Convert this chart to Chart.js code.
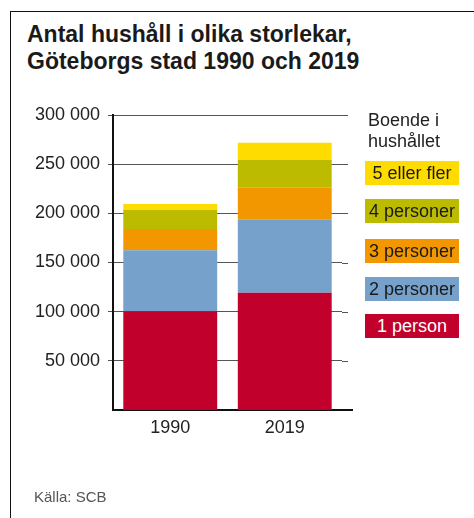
<!DOCTYPE html>
<html lang="sv">
<head>
    <meta charset="UTF-8">
    <title>Antal hushåll i olika storlekar</title>
    <script src="https://cdn.jsdelivr.net/npm/chart.js@4.4.1/dist/chart.umd.min.js"></script>
    <style>
        body { margin: 0; background: #fff; font-family: "Liberation Sans", Arial, sans-serif; color: #222; }
        #wrap { position: relative; width: 474px; height: 518px; overflow: hidden; }
        #frame { position: absolute; left: 10px; top: 11px; width: 470px; height: 520px; border-top: 1px solid #111; border-left: 1px solid #111; }
        #title { position: absolute; left: 27px; top: 21px; font-size: 23px; font-weight: bold; line-height: 27px; color: #1a1a1a; }
        #chart { position: absolute; left: 0; top: 0; }
        #legendTitle { position: absolute; left: 368px; top: 110px; font-size: 18px; line-height: 21px; color: #222; }
        .lg { position: absolute; left: 365px; width: 94px; height: 24px; font-size: 18px; line-height: 24px; text-align: center; color: #1a1a1a; white-space: nowrap; }
        #source { position: absolute; left: 34px; top: 488px; font-size: 15px; color: #555; }
    </style>
</head>
<body>
<div id="wrap">
    <div id="frame"></div>
    <div id="title">Antal hushåll i olika storlekar,<br>Göteborgs stad 1990 och 2019</div>
    <canvas id="chart" width="474" height="518"></canvas>
    <div id="legendTitle">Boende i<br>hushållet</div>
    <div id="legend"></div>
    <div id="source">Källa: SCB</div>
</div>
<script>
    // data
    const years = ['1990', '2019'];
    const onePerson = [100500, 119300];
    const twoPersons = [62000, 74200];
    const threePersons = [21500, 32600];
    const fourPersons = [19500, 28100];
    const fivePlus = [6000, 17600];
    const yTicks = [50000, 100000, 150000, 200000, 250000, 300000];

    const series = [
        { label: '1 person', data: onePerson, color: '#c1002b', text: '#fff' },
        { label: '2 personer', data: twoPersons, color: '#75a1cb', text: '#1a1a1a' },
        { label: '3 personer', data: threePersons, color: '#f39700', text: '#1a1a1a' },
        { label: '4 personer', data: fourPersons, color: '#bdbb00', text: '#1a1a1a' },
        { label: '5 eller fler', data: fivePlus, color: '#ffdc00', text: '#1a1a1a' }
    ];

    // legend boxes, top to bottom
    const legendTops = [314, 277, 239, 199, 161];
    const legendEl = document.getElementById('legend');
    series.forEach((s, i) => {
        const d = document.createElement('div');
        d.className = 'lg';
        d.style.top = legendTops[i] + 'px';
        d.style.background = s.color;
        d.style.color = s.text;
        d.textContent = s.label;
        legendEl.appendChild(d);
    });

    function fmt(v) {
        return String(v).replace(/\B(?=(\d{3})+(?!\d))/g, ' ');
    }

    // short extensions of the grid and x axis past the plot on the right
    const gridExtend = {
        id: 'gridExtend',
        afterDraw(chart) {
            const { ctx, chartArea, scales } = chart;
            ctx.save();
            ctx.strokeStyle = '#555';
            ctx.lineWidth = 1;
            yTicks.forEach(v => {
                const y = Math.round(scales.y.getPixelForValue(v)) + 0.5;
                ctx.beginPath();
                ctx.moveTo(chartArea.right, y);
                ctx.lineTo(chartArea.right + 6, y);
                ctx.stroke();
            });
            ctx.strokeStyle = '#111';
            ctx.lineWidth = 2;
            const y0 = scales.y.getPixelForValue(0);
            ctx.beginPath();
            ctx.moveTo(chartArea.right, y0);
            ctx.lineTo(chartArea.right + 11, y0);
            ctx.stroke();
            ctx.restore();
        }
    };

    new Chart(document.getElementById('chart'), {
        type: 'bar',
        data: {
            labels: years,
            datasets: series.map(s => ({
                label: s.label,
                data: s.data,
                backgroundColor: s.color,
                borderWidth: 0,
                barPercentage: 0.82,
                categoryPercentage: 1
            }))
        },
        options: {
            responsive: false,
            animation: false,
            layout: { padding: { top: 115, right: 132, left: 0, bottom: 0 } },
            plugins: { legend: { display: false }, tooltip: { enabled: false } },
            scales: {
                x: {
                    stacked: true,
                    grid: { display: false, drawTicks: false },
                    border: { display: true, color: '#111', width: 2 },
                    ticks: { color: '#222', padding: 7, font: { family: 'Liberation Sans', size: 18 } },
                    afterFit(scale) { scale.height = 108; }
                },
                y: {
                    stacked: true,
                    min: 0,
                    max: 300000,
                    afterBuildTicks(scale) { scale.ticks = yTicks.map(v => ({ value: v })); },
                    grid: { color: '#555', lineWidth: 1, tickLength: 5 },
                    border: { display: true, color: '#111', width: 2 },
                    ticks: {
                        color: '#222',
                        padding: 8,
                        font: { family: 'Liberation Sans', size: 18 },
                        callback: v => fmt(v)
                    },
                    afterFit(scale) { scale.width = 113; }
                }
            }
        },
        plugins: [gridExtend]
    });
</script>
</body>
</html>
